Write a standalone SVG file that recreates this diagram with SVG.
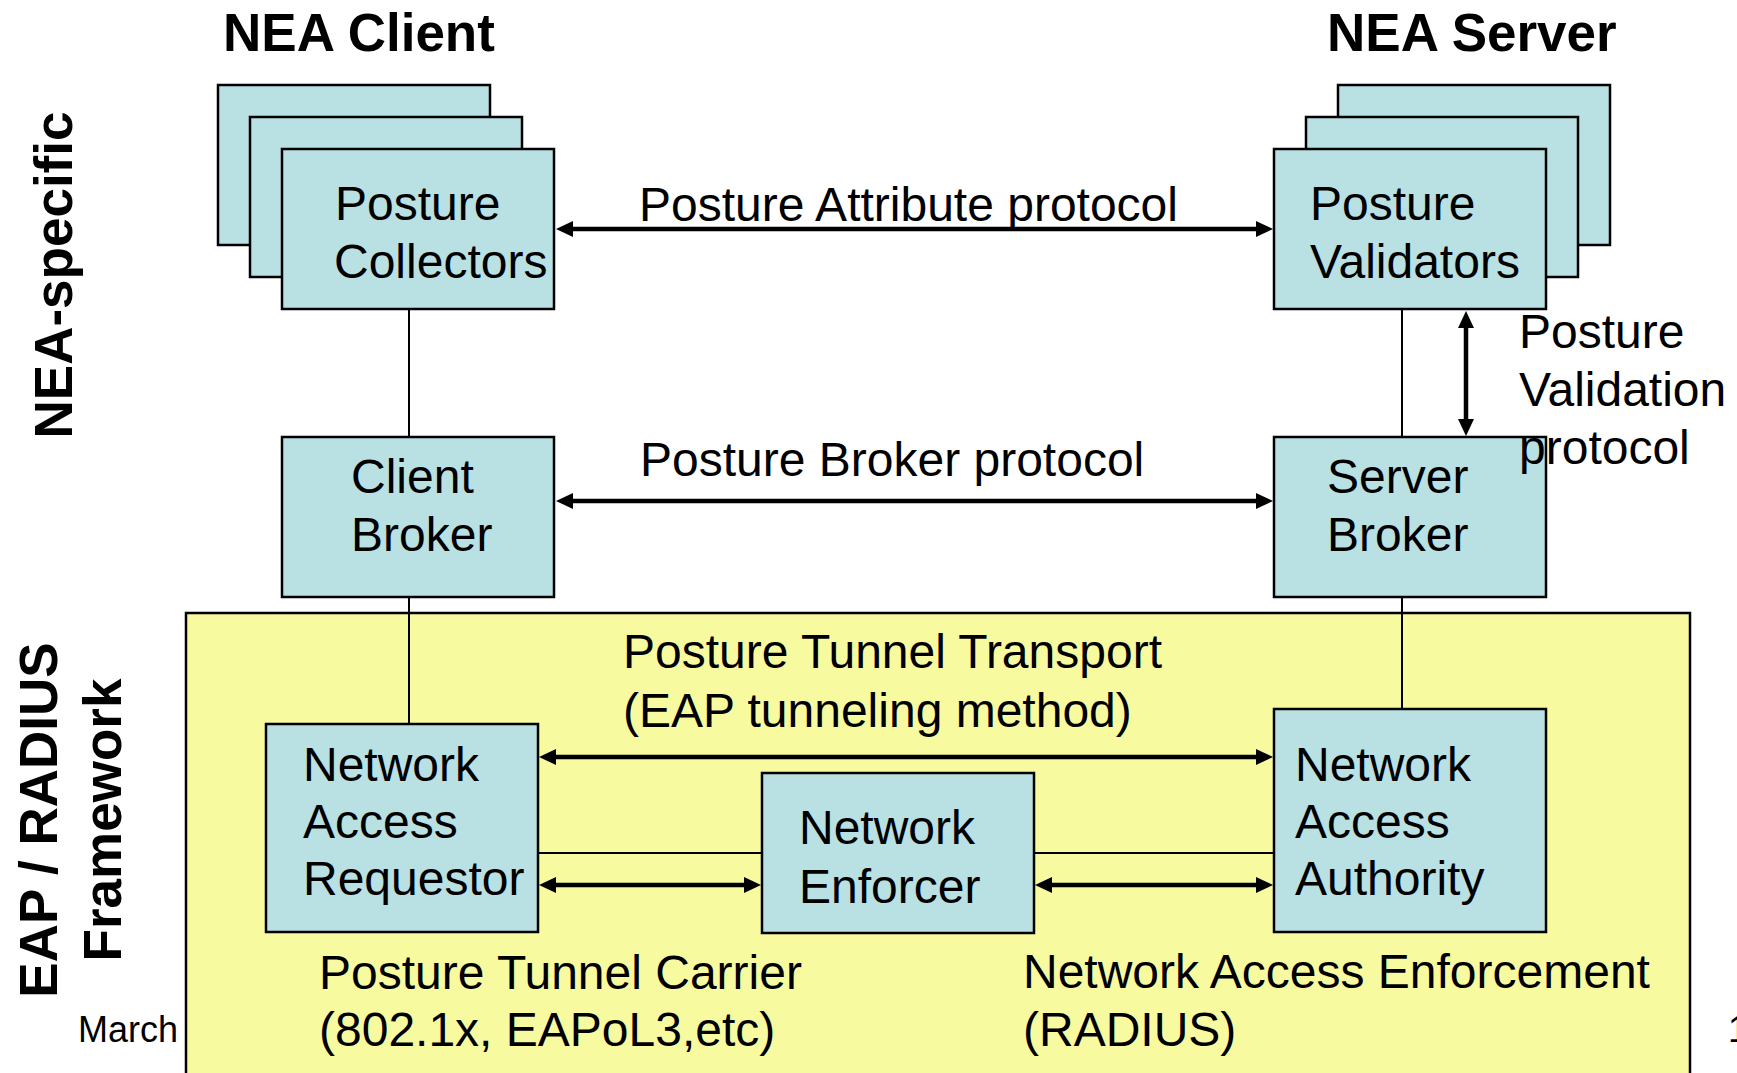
<svg xmlns="http://www.w3.org/2000/svg" width="1737" height="1073" viewBox="0 0 1737 1073">
<style>
.t{font-family:"Liberation Sans",Arial,Helvetica,sans-serif;font-size:48px;fill:#000}
.h{font-family:"Liberation Sans",Arial,Helvetica,sans-serif;font-size:53px;font-weight:bold;fill:#000}
.s{font-family:"Liberation Sans",Arial,Helvetica,sans-serif;font-size:36px;fill:#000}
.box{fill:#B9E0E3;stroke:#000;stroke-width:2.5}
.thin{stroke:#000;stroke-width:2;fill:none}
.arr{stroke:#000;stroke-width:4.5;fill:none;marker-start:url(#ah);marker-end:url(#ah)}
</style>
<defs>
<marker id="ah" markerUnits="userSpaceOnUse" markerWidth="18" markerHeight="16" refX="9" refY="8" orient="auto-start-reverse" viewBox="0 0 18 16">
<path d="M0,0 L17,8 L0,16 z" fill="#000"/>
</marker>
</defs>
<rect width="1737" height="1073" fill="#fff"/>
<g id="eap-frame">
<rect x="186" y="613" width="1504" height="480" fill="#F8FAA0" stroke="#000" stroke-width="2.5"/>
</g>
<g id="labels">
<text class="h" x="223" y="51">NEA Client</text>
<text class="h" x="1327" y="51">NEA Server</text>
<text class="h" text-anchor="middle" transform="translate(72,275) rotate(-90)">NEA-specific</text>
<text class="h" text-anchor="middle" transform="translate(57,820) rotate(-90)">EAP / RADIUS</text>
<text class="h" text-anchor="middle" transform="translate(121,820) rotate(-90)">Framework</text>
<text class="s" x="78" y="1042">March</text>
<text class="s" x="1728" y="1042">1</text>
</g>
<g id="connectors">
<line class="thin" x1="409" y1="309" x2="409" y2="437"/>
<line class="thin" x1="409" y1="597" x2="409" y2="724"/>
<line class="thin" x1="1402" y1="309" x2="1402" y2="437"/>
<line class="thin" x1="1402" y1="597" x2="1402" y2="709"/>
<line class="thin" x1="538" y1="853" x2="762" y2="853"/>
<line class="thin" x1="1034" y1="853" x2="1274" y2="853"/>
<line class="arr" x1="564" y1="229" x2="1265" y2="229"/>
<line class="arr" x1="564" y1="501" x2="1265" y2="501"/>
<line class="arr" x1="1466" y1="319" x2="1466" y2="428"/>
<line class="arr" x1="547" y1="757" x2="1265" y2="757"/>
<line class="arr" x1="547" y1="885" x2="753" y2="885"/>
<line class="arr" x1="1043" y1="885" x2="1265" y2="885"/>
<text class="t" x="639" y="221">Posture Attribute protocol</text>
<text class="t" x="640" y="476">Posture Broker protocol</text>
<text class="t" x="623" y="668">Posture Tunnel Transport</text>
<text class="t" x="623" y="727">(EAP tunneling method)</text>
<text class="t" x="319" y="989">Posture Tunnel Carrier</text>
<text class="t" x="319" y="1046">(802.1x, EAPoL3,etc)</text>
<text class="t" x="1023" y="988">Network Access Enforcement</text>
<text class="t" x="1023" y="1046">(RADIUS)</text>
</g>
<g id="posture-collectors">
<rect class="box" x="218" y="85" width="272" height="160"/>
<rect class="box" x="250" y="117" width="272" height="160"/>
<rect class="box" x="282" y="149" width="272" height="160"/>
<text class="t" x="335" y="220">Posture</text>
<text class="t" x="334" y="278">Collectors</text>
</g>
<g id="posture-validators">
<rect class="box" x="1338" y="85" width="272" height="160"/>
<rect class="box" x="1306" y="117" width="272" height="160"/>
<rect class="box" x="1274" y="149" width="272" height="160"/>
<text class="t" x="1310" y="220">Posture</text>
<text class="t" x="1310" y="278">Validators</text>
</g>
<g id="client-broker">
<rect class="box" x="282" y="437" width="272" height="160"/>
<text class="t" x="351" y="493">Client</text>
<text class="t" x="351" y="551">Broker</text>
</g>
<g id="server-broker">
<rect class="box" x="1274" y="437" width="272" height="160"/>
<text class="t" x="1327" y="493">Server</text>
<text class="t" x="1327" y="551">Broker</text>
</g>
<g id="pvp-label">
<text class="t" x="1519" y="348">Posture</text>
<text class="t" x="1519" y="406">Validation</text>
<text class="t" x="1519" y="464">protocol</text>
</g>
<g id="network-access-requestor">
<rect class="box" x="266" y="724" width="272" height="208"/>
<text class="t" x="303" y="781">Network</text>
<text class="t" x="303" y="838">Access</text>
<text class="t" x="303" y="895">Requestor</text>
</g>
<g id="network-enforcer">
<rect class="box" x="762" y="773" width="272" height="160"/>
<text class="t" x="799" y="844">Network</text>
<text class="t" x="799" y="903">Enforcer</text>
</g>
<g id="network-access-authority">
<rect class="box" x="1274" y="709" width="272" height="223"/>
<text class="t" x="1295" y="781">Network</text>
<text class="t" x="1295" y="838">Access</text>
<text class="t" x="1295" y="895">Authority</text>
</g>
</svg>
